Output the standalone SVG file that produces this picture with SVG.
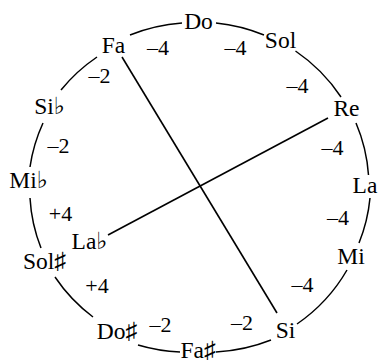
<svg xmlns="http://www.w3.org/2000/svg" width="378" height="362" viewBox="0 0 378 362">
<style>
.lbl{font-family:"Liberation Serif","DejaVu Serif",serif;font-size:23.5px;fill:#000;text-anchor:middle}
.num{font-family:"Liberation Serif","DejaVu Serif",serif;font-size:22px;fill:#000;text-anchor:middle}
.arc{fill:none;stroke:#000;stroke-width:1.5}
.ln{stroke:#000;stroke-width:1.6}
</style>
<rect width="378" height="362" fill="#fff"/>
<g id="connectors">
<path class="arc" d="M216,23 A170,165 0 0 1 264,35"/>
<path class="arc" d="M295.5,51 A170,165 0 0 1 341,97"/>
<path class="arc" d="M356,123 A170,165 0 0 1 368.5,175"/>
<path class="arc" d="M370,198 A170,165 0 0 1 359,243"/>
<path class="arc" d="M347,270 A170,165 0 0 1 297,324"/>
<path class="arc" d="M271,340 A170,165 0 0 1 216,352"/>
<path class="arc" d="M180,352 A170,165 0 0 1 138,345"/>
<path class="arc" d="M93,317 A170,165 0 0 1 55,277"/>
<path class="arc" d="M41,248 A170,165 0 0 1 30,198"/>
<path class="arc" d="M30,167 A170,165 0 0 1 43,123"/>
<path class="arc" d="M61,90 A170,165 0 0 1 97,57"/>
<path class="arc" d="M130,35 A170,165 0 0 1 182,23"/>
<line class="ln" x1="122" y1="57" x2="277" y2="313"/>
<line class="ln" x1="108" y1="235" x2="328" y2="118"/>
<g id="weights">
<text class="num" x="158" y="55">–4</text>
<text class="num" x="235.5" y="55">–4</text>
<text class="num" x="297.5" y="93">–4</text>
<text class="num" x="332.5" y="155">–4</text>
<text class="num" x="338" y="225">–4</text>
<text class="num" x="302.5" y="292">–4</text>
<text class="num" x="242" y="330">–2</text>
<text class="num" x="160.5" y="332">–2</text>
<text class="num" x="97" y="293">+4</text>
<text class="num" x="60.5" y="221">+4</text>
<text class="num" x="58.5" y="153">–2</text>
<text class="num" x="99.5" y="83">–2</text>
</g>
</g>
<g id="n-do"><text class="lbl" x="198.5" y="28.5">Do</text></g>
<g id="n-sol"><text class="lbl" x="280.5" y="47.5">Sol</text></g>
<g id="n-re"><text class="lbl" x="346.5" y="115.5">Re</text></g>
<g id="n-la"><text class="lbl" x="365" y="192.5">La</text></g>
<g id="n-mi"><text class="lbl" x="351" y="263.5">Mi</text></g>
<g id="n-si"><text class="lbl" x="285.5" y="337.5">Si</text></g>
<g id="n-fas"><text class="lbl" x="198" y="357.5">Fa♯</text></g>
<g id="n-dos"><text class="lbl" x="117" y="338.5">Do♯</text></g>
<g id="n-sols"><text class="lbl" x="44.5" y="268.5">Sol♯</text></g>
<g id="n-mib"><text class="lbl" x="28.5" y="187.5">Mi♭</text></g>
<g id="n-sib"><text class="lbl" x="49.5" y="113.5">Si♭</text></g>
<g id="n-fa"><text class="lbl" x="113.5" y="52.5">Fa</text></g>
<g id="n-lab"><text class="lbl" x="89.5" y="248.5">La♭</text></g>
</svg>
